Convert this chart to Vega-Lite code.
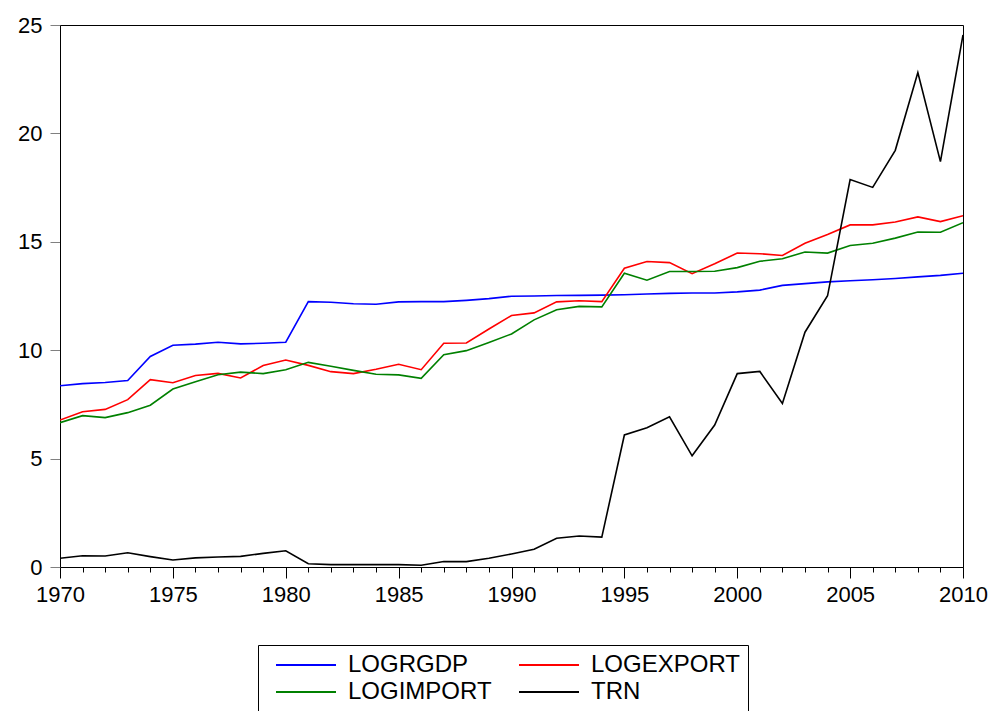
{
  "$schema": "https://vega.github.io/schema/vega-lite/v6.json",
  "width": 903,
  "height": 542,
  "autosize": {"type": "none"},
  "padding": {"left": 60, "top": 25, "right": 29, "bottom": 144},
  "background": "white",
  "config": {
    "view": {"stroke": "black", "strokeWidth": 1},
    "font": "Liberation Sans"
  },
  "data": {
    "values": [
      {"year": 1970, "LOGRGDP": 8.36, "LOGEXPORT": 6.78, "LOGIMPORT": 6.66, "TRN": 0.40},
      {"year": 1971, "LOGRGDP": 8.46, "LOGEXPORT": 7.16, "LOGIMPORT": 6.98, "TRN": 0.52},
      {"year": 1972, "LOGRGDP": 8.51, "LOGEXPORT": 7.27, "LOGIMPORT": 6.89, "TRN": 0.51},
      {"year": 1973, "LOGRGDP": 8.60, "LOGEXPORT": 7.72, "LOGIMPORT": 7.12, "TRN": 0.66},
      {"year": 1974, "LOGRGDP": 9.71, "LOGEXPORT": 8.64, "LOGIMPORT": 7.46, "TRN": 0.48},
      {"year": 1975, "LOGRGDP": 10.23, "LOGEXPORT": 8.50, "LOGIMPORT": 8.21, "TRN": 0.32},
      {"year": 1976, "LOGRGDP": 10.28, "LOGEXPORT": 8.83, "LOGIMPORT": 8.55, "TRN": 0.42},
      {"year": 1977, "LOGRGDP": 10.37, "LOGEXPORT": 8.93, "LOGIMPORT": 8.87, "TRN": 0.46},
      {"year": 1978, "LOGRGDP": 10.29, "LOGEXPORT": 8.72, "LOGIMPORT": 8.99, "TRN": 0.49},
      {"year": 1979, "LOGRGDP": 10.32, "LOGEXPORT": 9.29, "LOGIMPORT": 8.92, "TRN": 0.63},
      {"year": 1980, "LOGRGDP": 10.37, "LOGEXPORT": 9.55, "LOGIMPORT": 9.10, "TRN": 0.75},
      {"year": 1981, "LOGRGDP": 12.24, "LOGEXPORT": 9.30, "LOGIMPORT": 9.44, "TRN": 0.15},
      {"year": 1982, "LOGRGDP": 12.21, "LOGEXPORT": 9.01, "LOGIMPORT": 9.26, "TRN": 0.11},
      {"year": 1983, "LOGRGDP": 12.14, "LOGEXPORT": 8.92, "LOGIMPORT": 9.07, "TRN": 0.11},
      {"year": 1984, "LOGRGDP": 12.12, "LOGEXPORT": 9.12, "LOGIMPORT": 8.89, "TRN": 0.11},
      {"year": 1985, "LOGRGDP": 12.23, "LOGEXPORT": 9.35, "LOGIMPORT": 8.86, "TRN": 0.11},
      {"year": 1986, "LOGRGDP": 12.24, "LOGEXPORT": 9.10, "LOGIMPORT": 8.70, "TRN": 0.08},
      {"year": 1987, "LOGRGDP": 12.24, "LOGEXPORT": 10.32, "LOGIMPORT": 9.79, "TRN": 0.25},
      {"year": 1988, "LOGRGDP": 12.30, "LOGEXPORT": 10.33, "LOGIMPORT": 9.98, "TRN": 0.25},
      {"year": 1989, "LOGRGDP": 12.38, "LOGEXPORT": 10.98, "LOGIMPORT": 10.36, "TRN": 0.40},
      {"year": 1990, "LOGRGDP": 12.49, "LOGEXPORT": 11.60, "LOGIMPORT": 10.75, "TRN": 0.60},
      {"year": 1991, "LOGRGDP": 12.50, "LOGEXPORT": 11.72, "LOGIMPORT": 11.40, "TRN": 0.82},
      {"year": 1992, "LOGRGDP": 12.52, "LOGEXPORT": 12.23, "LOGIMPORT": 11.87, "TRN": 1.33},
      {"year": 1993, "LOGRGDP": 12.53, "LOGEXPORT": 12.28, "LOGIMPORT": 12.02, "TRN": 1.43},
      {"year": 1994, "LOGRGDP": 12.54, "LOGEXPORT": 12.24, "LOGIMPORT": 12.00, "TRN": 1.38},
      {"year": 1995, "LOGRGDP": 12.56, "LOGEXPORT": 13.78, "LOGIMPORT": 13.55, "TRN": 6.09},
      {"year": 1996, "LOGRGDP": 12.59, "LOGEXPORT": 14.09, "LOGIMPORT": 13.23, "TRN": 6.42},
      {"year": 1997, "LOGRGDP": 12.62, "LOGEXPORT": 14.04, "LOGIMPORT": 13.63, "TRN": 6.93},
      {"year": 1998, "LOGRGDP": 12.64, "LOGEXPORT": 13.53, "LOGIMPORT": 13.63, "TRN": 5.13},
      {"year": 1999, "LOGRGDP": 12.64, "LOGEXPORT": 13.99, "LOGIMPORT": 13.64, "TRN": 6.55},
      {"year": 2000, "LOGRGDP": 12.69, "LOGEXPORT": 14.48, "LOGIMPORT": 13.81, "TRN": 8.92},
      {"year": 2001, "LOGRGDP": 12.77, "LOGEXPORT": 14.45, "LOGIMPORT": 14.10, "TRN": 9.02},
      {"year": 2002, "LOGRGDP": 12.99, "LOGEXPORT": 14.37, "LOGIMPORT": 14.22, "TRN": 7.54},
      {"year": 2003, "LOGRGDP": 13.07, "LOGEXPORT": 14.93, "LOGIMPORT": 14.53, "TRN": 10.83},
      {"year": 2004, "LOGRGDP": 13.15, "LOGEXPORT": 15.34, "LOGIMPORT": 14.48, "TRN": 12.51},
      {"year": 2005, "LOGRGDP": 13.20, "LOGEXPORT": 15.78, "LOGIMPORT": 14.83, "TRN": 17.87},
      {"year": 2006, "LOGRGDP": 13.25, "LOGEXPORT": 15.78, "LOGIMPORT": 14.93, "TRN": 17.51},
      {"year": 2007, "LOGRGDP": 13.31, "LOGEXPORT": 15.91, "LOGIMPORT": 15.17, "TRN": 19.22},
      {"year": 2008, "LOGRGDP": 13.38, "LOGEXPORT": 16.15, "LOGIMPORT": 15.45, "TRN": 22.81},
      {"year": 2009, "LOGRGDP": 13.45, "LOGEXPORT": 15.93, "LOGIMPORT": 15.44, "TRN": 18.70},
      {"year": 2010, "LOGRGDP": 13.55, "LOGEXPORT": 16.20, "LOGIMPORT": 15.88, "TRN": 24.54}
    ]
  },
  "transform": [
    {"fold": ["LOGRGDP", "LOGEXPORT", "LOGIMPORT", "TRN"], "as": ["series", "value"]}
  ],
  "mark": {"type": "line", "strokeWidth": 1.6, "clip": true},
  "encoding": {
    "x": {
      "field": "year",
      "type": "quantitative",
      "scale": {"domain": [1970, 2010], "nice": false, "zero": false},
      "axis": {
        "title": null,
        "grid": false,
        "values": [1970,1971,1972,1973,1974,1975,1976,1977,1978,1979,1980,1981,1982,1983,1984,1985,1986,1987,1988,1989,1990,1991,1992,1993,1994,1995,1996,1997,1998,1999,2000,2001,2002,2003,2004,2005,2006,2007,2008,2009,2010],
        "format": "d",
        "labelExpr": "datum.value % 5 === 0 ? datum.label : ''",
        "tickSize": {"condition": {"test": "datum.value % 5 === 0", "value": 11}, "value": 5},
        "tickColor": "black",
        "domainColor": "black",
        "labelColor": "black",
        "labelFontSize": 22,
        "labelFont": "Liberation Sans",
        "labelPadding": 6,
        "labelOverlap": false,
        "labelFlush": false
      }
    },
    "y": {
      "field": "value",
      "type": "quantitative",
      "scale": {"domain": [0, 25], "nice": false},
      "axis": {
        "title": null,
        "grid": false,
        "values": [0, 5, 10, 15, 20, 25],
        "tickSize": 10,
        "tickColor": "#808080",
        "domainColor": "black",
        "labelColor": "black",
        "labelFontSize": 22,
        "labelFont": "Liberation Sans",
        "labelPadding": 8,
        "labelFlush": false
      }
    },
    "color": {
      "field": "series",
      "type": "nominal",
      "scale": {
        "domain": ["LOGRGDP", "LOGEXPORT", "LOGIMPORT", "TRN"],
        "range": ["#0000FF", "#FF0000", "#008000", "#000000"]
      },
      "legend": {
        "title": null,
        "orient": "none",
        "legendX": 198,
        "legendY": 620,
        "columns": 2,
        "direction": "horizontal",
        "symbolType": "M-3,0L3,0",
        "symbolSize": 400,
        "symbolStrokeWidth": 2,
        "symbolOffset": 28,
        "labelFontSize": 24,
        "labelFont": "Liberation Sans",
        "labelColor": "black",
        "labelOffset": 30,
        "strokeColor": "black",
        "padding": 8,
        "rowPadding": 3,
        "columnPadding": 17
      }
    }
  }
}
